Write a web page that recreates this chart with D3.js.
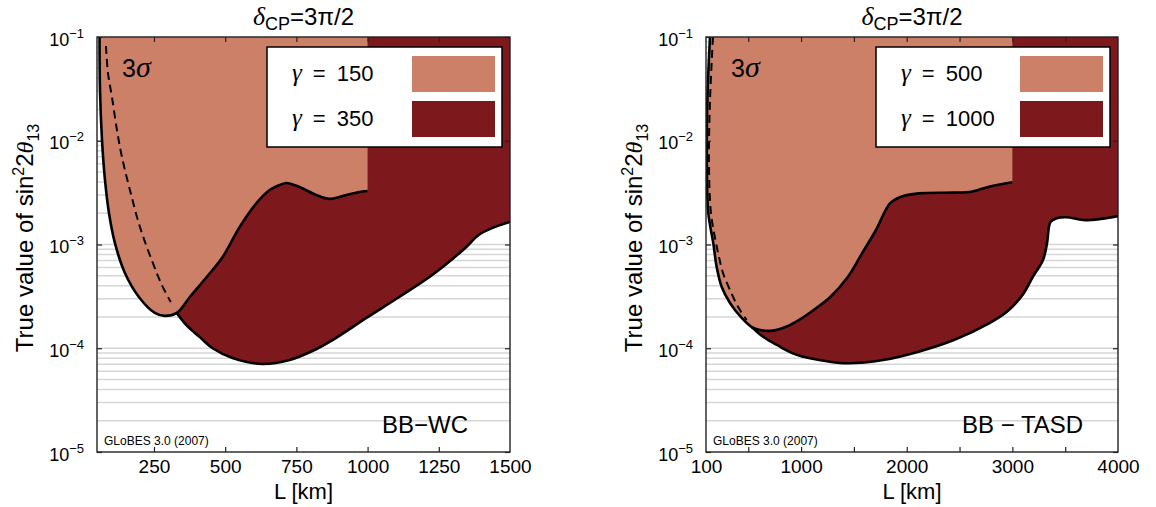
<!DOCTYPE html>
<html>
<head>
<meta charset="utf-8">
<script src="https://cdn.jsdelivr.net/npm/d3@7"></script>
<style>
  body { margin: 0; background: #fff; }
  svg text { font-family: "Liberation Sans", Arial, Helvetica, sans-serif; fill: #000; }
  .math { font-family: "Liberation Serif", "DejaVu Serif", serif; font-style: italic; }
</style>
</head>
<body>
<svg id="chart" width="1156" height="507"></svg>
<script>
// ---------- BB-WC (L in km vs true sin^2 2θ13) ----------
const wcLightEdgeL = [59, 60.5, 67.5, 78, 92, 113, 148, 197, 253, 288, 330];
const wcLightEdgeS = [0.1, 3.08e-2, 1.02e-2, 4.19e-3, 2.01e-3, 1.03e-3, 5.31e-4, 3.12e-4, 2.19e-4, 2.05e-4, 2.19e-4];
const wcLightTopL  = [330, 376, 435, 491, 551, 610, 656, 691, 715, 761, 820, 866, 926, 971, 1000];
const wcLightTopS  = [2.19e-4, 3.12e-4, 4.86e-4, 7.58e-4, 1.48e-3, 2.51e-3, 3.35e-3, 3.74e-3, 3.92e-3, 3.58e-3, 3.00e-3, 2.75e-3, 3.00e-3, 3.21e-3, 3.28e-3];
const wcDarkEdgeL  = [330, 364, 411, 456, 526, 631, 726, 821, 877, 996, 1111, 1227, 1339, 1391, 1437, 1500];
const wcDarkEdgeS  = [2.19e-4, 1.67e-4, 1.28e-4, 1.00e-4, 8.05e-5, 7.05e-5, 7.71e-5, 9.84e-5, 1.20e-4, 1.96e-4, 3.12e-4, 5.08e-4, 9.06e-4, 1.24e-3, 1.44e-3, 1.65e-3];
const wcDashL      = [81.5, 88.5, 102.5, 120, 137.6, 165.6, 200.6, 246, 277.7, 309];
const wcDashS      = [8.19e-2, 4.50e-2, 2.64e-2, 1.27e-2, 6.97e-3, 3.35e-3, 1.48e-3, 6.64e-4, 4.07e-4, 2.79e-4];
const wcTickMarks  = [250, 500, 750, 1000, 1250];
const wcTickLabels = [250, 500, 750, 1000, 1250, 1500];
const wcGammas     = [150, 350];

// ---------- BB-TASD ----------
const tasdLightEdgeL = [138, 114, 108, 122, 169, 201, 249, 327, 438, 533];
const tasdLightEdgeS = [0.1, 2.64e-2, 6.11e-3, 2.01e-3, 1.03e-3, 6.07e-4, 3.89e-4, 2.73e-4, 1.96e-4, 1.60e-4];
const tasdLightTopL  = [533, 611, 734, 864, 990, 1109, 1274, 1444, 1577, 1709, 1842, 1946, 2112, 2446, 2613, 2779, 3000];
const tasdLightTopS  = [1.60e-4, 1.50e-4, 1.48e-4, 1.62e-4, 1.90e-4, 2.30e-4, 3.10e-4, 4.90e-4, 8.22e-4, 1.38e-3, 2.49e-3, 2.89e-3, 3.11e-3, 3.16e-3, 3.23e-3, 3.61e-3, 3.98e-3];
const tasdDarkEdgeL  = [533, 640, 775, 952, 1274, 1444, 1776, 2112, 2446, 2779, 2948, 3100, 3195, 3290, 3328, 3347, 3363, 3420, 3514, 3669, 3830, 4000];
const tasdDarkEdgeS  = [1.60e-4, 1.29e-4, 1.07e-4, 8.71e-5, 7.41e-5, 7.16e-5, 7.71e-5, 9.27e-5, 1.20e-4, 1.74e-4, 2.25e-4, 3.3e-4, 4.90e-4, 7.10e-4, 1.03e-3, 1.49e-3, 1.66e-3, 1.79e-3, 1.83e-3, 1.72e-3, 1.76e-3, 1.88e-3];
const tasdDashL      = [166, 138, 128, 147, 195, 223, 261, 327, 403, 485];
const tasdDashS      = [0.1, 2.47e-2, 6.11e-3, 2.01e-3, 1.03e-3, 7.59e-4, 5.31e-4, 3.64e-4, 2.51e-4, 1.87e-4];
const tasdTickMarks  = [500, 1000, 1500, 2000, 2500, 3000, 3500];
const tasdTickLabels = [100, 1000, 2000, 3000, 4000];
const tasdGammas     = [500, 1000];

// shared vertical axis: decades of sin^2 2θ13
const yExponents = [-5, -4, -3, -2, -1];

const LIGHT = "#cd8068";
const DARK = "#7d191c";

const panels = [
  {
    left: 97, right: 510, xDomain: [50, 1500], lightEnd: 1000, tag: "BB\u2212WC", tagX: 382,
    lightEdge: d3.zip(wcLightEdgeL, wcLightEdgeS), lightTop: d3.zip(wcLightTopL, wcLightTopS),
    darkEdge: d3.zip(wcDarkEdgeL, wcDarkEdgeS), dash: d3.zip(wcDashL, wcDashS),
    tickMarks: wcTickMarks, tickLabels: wcTickLabels, gammas: wcGammas
  },
  {
    left: 706, right: 1118, xDomain: [100, 4000], lightEnd: 3000, tag: "BB \u2212 TASD", tagX: 962,
    lightEdge: d3.zip(tasdLightEdgeL, tasdLightEdgeS), lightTop: d3.zip(tasdLightTopL, tasdLightTopS),
    darkEdge: d3.zip(tasdDarkEdgeL, tasdDarkEdgeS), dash: d3.zip(tasdDashL, tasdDashS),
    tickMarks: tasdTickMarks, tickLabels: tasdTickLabels, gammas: tasdGammas
  }
];

const TOP = 37, BOTTOM = 452;
const svg = d3.select("#chart");

panels.forEach((p, i) => {
  const x = d3.scaleLinear().domain(p.xDomain).range([p.left, p.right]);
  const y = d3.scaleLog().domain([1e-5, 1e-1]).range([BOTTOM, TOP]);
  const yTop = y.domain()[1];
  const g = svg.append("g");

  const clipId = "clip" + i;
  svg.append("clipPath").attr("id", clipId).append("rect")
    .attr("x", p.left).attr("y", TOP).attr("width", p.right - p.left).attr("height", BOTTOM - TOP);

  // horizontal grid at every 1..9 x 10^k
  g.append("g").selectAll("line")
    .data(y.ticks().filter(v => v > 1e-5 && v < 1e-1))
    .join("line")
    .attr("x1", p.left).attr("x2", p.right)
    .attr("y1", d => y(d)).attr("y2", d => y(d))
    .attr("stroke", "#d6d6d6").attr("stroke-width", 1.5);

  const plot = g.append("g").attr("clip-path", `url(#${clipId})`);
  const line = d3.line().x(d => x(d[0])).y(d => y(d[1])).curve(d3.curveCatmullRom.alpha(0.5));

  // larger gamma region: from its lower contour up to the top of the plot
  const area = d3.area().x(d => x(d[0])).y0(d => y(d[1])).y1(() => y(yTop))
    .curve(d3.curveCatmullRom.alpha(0.5));
  plot.append("path").attr("d", area(p.darkEdge)).attr("fill", DARK);

  // smaller gamma region: closed contour, cut at its largest computed baseline
  const lightOutline = p.lightEdge.concat(p.lightTop.slice(1));
  const lightPath = line(lightOutline) +
    `L${x(p.lightEnd)},${y(yTop)}L${x(p.lightEdge[0][0])},${y(yTop)}Z`;
  plot.append("path").attr("d", lightPath).attr("fill", LIGHT);

  // contour lines
  plot.append("path").attr("d", line(lightOutline)).attr("fill", "none")
    .attr("stroke", "#000").attr("stroke-width", 2.6).attr("stroke-linejoin", "round");
  plot.append("path").attr("d", line(p.darkEdge)).attr("fill", "none")
    .attr("stroke", "#000").attr("stroke-width", 2.6).attr("stroke-linejoin", "round");
  plot.append("path").attr("d", line(p.dash)).attr("fill", "none")
    .attr("stroke", "#000").attr("stroke-width", 2).attr("stroke-dasharray", "8,5");

  // frame
  g.append("rect").attr("x", p.left).attr("y", TOP)
    .attr("width", p.right - p.left).attr("height", BOTTOM - TOP)
    .attr("fill", "none").attr("stroke", "#222").attr("stroke-width", 1.4);

  // tick marks (inward) on all four sides
  const tickStyle = s => { s.select(".domain").remove(); s.selectAll("line").attr("stroke", "#222").attr("stroke-width", 1.2); };
  g.append("g").attr("transform", `translate(0,${BOTTOM})`)
    .call(d3.axisBottom(x).tickValues(p.tickMarks).tickSizeInner(-5).tickSizeOuter(0).tickFormat(""))
    .call(tickStyle);
  g.append("g").attr("transform", `translate(0,${TOP})`)
    .call(d3.axisTop(x).tickValues(p.tickMarks).tickSizeInner(-5).tickSizeOuter(0).tickFormat(""))
    .call(tickStyle);
  g.append("g").attr("transform", `translate(${p.right},0)`)
    .call(d3.axisRight(y).tickValues(yExponents.map(e => Math.pow(10, e))).tickSizeInner(-5).tickSizeOuter(0).tickFormat(""))
    .call(tickStyle);

  // left axis with 10^k labels
  const yAxis = g.append("g").attr("transform", `translate(${p.left},0)`)
    .call(d3.axisLeft(y).tickValues(yExponents.map(e => Math.pow(10, e)))
      .tickSizeInner(-5).tickSizeOuter(0).tickPadding(13));
  yAxis.call(tickStyle);
  yAxis.selectAll("text").each(function (d) {
    const t = d3.select(this).text(null).attr("font-size", 18).attr("dy", "0.45em")
      .attr("font-family", null);
    t.append("tspan").text("10");
    t.append("tspan").attr("dy", -8).attr("font-size", 13).text("\u2212" + Math.abs(Math.round(Math.log10(d))));
  });

  // bottom labels
  const xAxis = g.append("g").attr("transform", `translate(0,${BOTTOM})`)
    .call(d3.axisBottom(x).tickValues(p.tickLabels).tickSize(0).tickPadding(8).tickFormat(d3.format("d")));
  xAxis.select(".domain").remove();
  xAxis.selectAll("text").attr("font-size", 19).attr("font-family", null);

  const cx = (p.left + p.right) / 2;

  // axis titles
  g.append("text").attr("x", cx).attr("y", 499).attr("text-anchor", "middle")
    .attr("font-size", 22).text("L [km]");

  const yl = g.append("text").attr("transform", `translate(${p.left - 64},238) rotate(-90)`)
    .attr("text-anchor", "middle").attr("font-size", 24);
  yl.append("tspan").text("True value of sin");
  yl.append("tspan").attr("dy", -9).attr("font-size", 16).text("2");
  yl.append("tspan").attr("dy", 9).text("2");
  yl.append("tspan").attr("class", "math").text("\u03b8");
  yl.append("tspan").attr("dy", 6).attr("font-size", 16).text("13");

  // panel title
  const tt = g.append("text").attr("x", cx).attr("y", 25).attr("text-anchor", "middle").attr("font-size", 24);
  tt.append("tspan").attr("class", "math").attr("font-size", 26).text("\u03b4");
  tt.append("tspan").attr("dy", 5).attr("font-size", 18).text("CP");
  tt.append("tspan").attr("dy", -5).text("=3\u03c0/2");

  // confidence level
  const cl = g.append("text").attr("x", p.left + 25).attr("y", 77).attr("font-size", 25);
  cl.append("tspan").text("3");
  cl.append("tspan").attr("class", "math").attr("font-size", 30).text("\u03c3");

  // setup tag and software credit
  g.append("text").attr("x", p.tagX).attr("y", 433).attr("font-size", 24).text(p.tag);
  g.append("text").attr("x", p.left + 7).attr("y", 445).attr("font-size", 12)
    .attr("fill", "#222").text("GLoBES 3.0 (2007)");

  // legend
  const lx = p.left + 170, lw = p.right - 8 - lx;
  const leg = g.append("g");
  leg.append("rect").attr("x", lx).attr("y", 47).attr("width", lw).attr("height", 100)
    .attr("fill", "#fff").attr("stroke", "#000").attr("stroke-width", 1.5);
  [LIGHT, DARK].forEach((c, k) => {
    const yy = 56 + k * 45;
    leg.append("rect").attr("x", p.right - 98).attr("y", yy).attr("width", 83).attr("height", 36).attr("fill", c);
    const lt = leg.append("text").attr("x", lx + 25).attr("y", yy + 25).attr("font-size", 22);
    lt.append("tspan").attr("class", "math").attr("font-size", 25).text("\u03b3");
    lt.append("tspan").text("\u2002=\u2002" + p.gammas[k]);
  });
});
</script>
</body>
</html>
